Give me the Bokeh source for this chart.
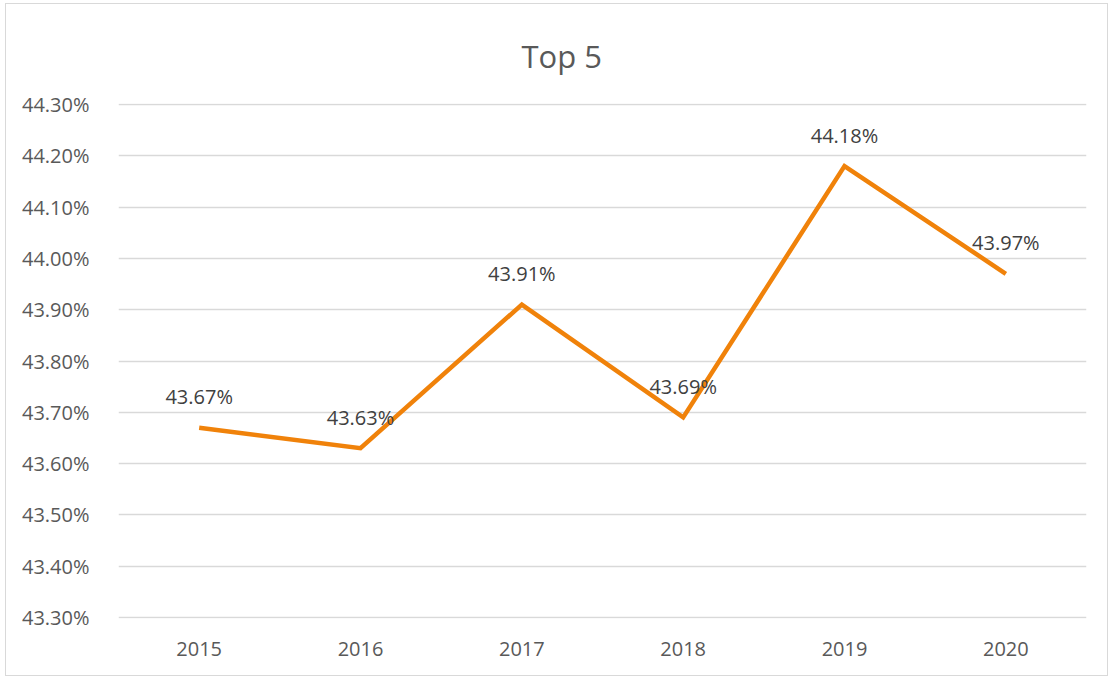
from bokeh.plotting import figure
from bokeh.models import Range1d, ColumnDataSource, CustomJSTickFormatter
from bokeh.core.properties import value
from bokeh.embed import file_html
from bokeh.resources import INLINE

title_text = "Top 5"
years = ["2015", "2016", "2017", "2018", "2019", "2020"]
share = [43.67, 43.63, 43.91, 43.69, 44.18, 43.97]
labels = [f"{v:.2f}%" for v in share]
y_ticks = [43.3, 43.4, 43.5, 43.6, 43.7, 43.8, 43.9, 44.0, 44.1, 44.2, 44.3]
y_min, y_max = 43.298, 44.302

src = ColumnDataSource(dict(x=years, y=share, lab=labels))

p = figure(x_range=years, y_range=Range1d(y_min, y_max), width=1103, height=673,
           output_backend="svg", toolbar_location=None,
           min_border_left=112, min_border_right=23, min_border_top=99, min_border_bottom=59,
           title=title_text)
p.styles = {"border": "1px solid #d9d9d9", "margin-left": "5px", "margin-top": "3px"}
p.title.align = "left"
p.title.offset = 403
p.title.vertical_align = "top"
p.title.text_font = "Open Sans"
p.title.text_font_style = "normal"
p.title.text_font_size = "31px"
p.title.text_color = "#595959"
p.title.standoff = 50
p.outline_line_color = None

p.line("x", "y", source=src, line_color="#F0820A", line_width=4.5, line_join="miter")
p.text("x", "y", text="lab", source=src, text_align="center", text_baseline="middle",
       y_offset=-31, text_font=value("Open Sans"), text_font_size="20px", text_color="#404040")

for ax in (p.xaxis[0], p.yaxis[0]):
    ax.axis_line_color = None
    ax.major_tick_line_color = None
    ax.minor_tick_line_color = None
    ax.major_label_text_font = "Open Sans"
    ax.major_label_text_font_size = "20px"
    ax.major_label_text_color = "#595959"
p.yaxis.ticker = y_ticks
p.yaxis.formatter = CustomJSTickFormatter(code="return tick.toFixed(2) + '%';")
p.yaxis.major_label_standoff = 23
p.xaxis.major_label_standoff = 17
p.xgrid.grid_line_color = None
p.ygrid.grid_line_color = "#d9d9d9"
p.ygrid.grid_line_width = 1.3
p.x_range.range_padding = 0

open("out.html", "w").write(file_html(p, INLINE))
